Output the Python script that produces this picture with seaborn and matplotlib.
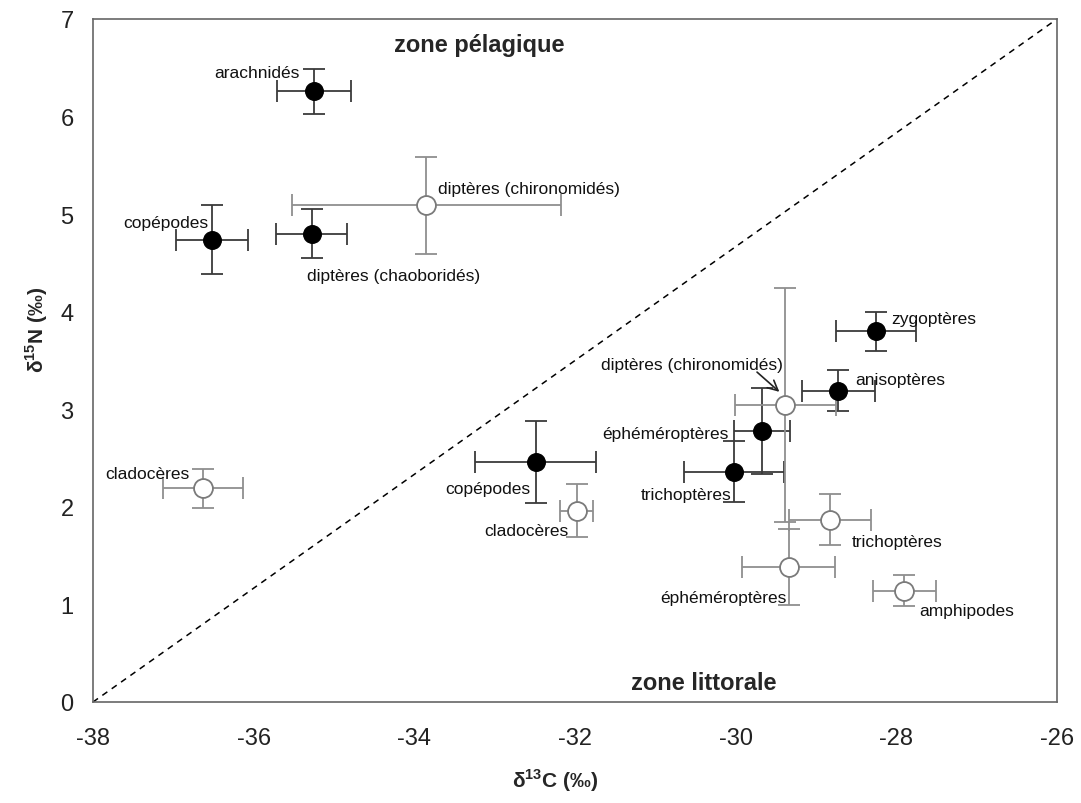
import matplotlib
matplotlib.use("Agg")
import matplotlib.pyplot as plt
import seaborn as sns
import pandas as pd

# ---- data -------------------------------------------------------------
names = ["arachnidés", "copépodes", "diptères (chaoboridés)", "diptères (chironomidés)",
         "cladocères", "copépodes", "cladocères", "diptères (chironomidés)",
         "zygoptères", "anisoptères", "éphéméroptères", "trichoptères",
         "trichoptères", "éphéméroptères", "amphipodes"]
d13c = [-35.25, -36.52, -35.28, -33.85, -36.63, -32.49, -31.98, -29.38,
        -28.25, -28.72, -29.67, -30.02, -28.83, -29.34, -27.90]
d15n = [6.26, 4.74, 4.80, 5.09, 2.19, 2.46, 1.96, 3.04,
        3.80, 3.19, 2.78, 2.36, 1.87, 1.38, 1.14]
d13c_err = [0.46, 0.45, 0.44, 1.67, 0.50, 0.75, 0.21, 0.63,
            0.50, 0.46, 0.35, 0.62, 0.51, 0.58, 0.39]
d15n_err = [0.23, 0.35, 0.25, 0.50, 0.20, 0.42, 0.27, 1.20,
            0.20, 0.21, 0.44, 0.31, 0.26, 0.39, 0.16]
filled = [True, True, True, False, False, True, False, False,
          True, True, True, True, False, False, False]

# label anchor positions (data coords) and alignment
label_x = [-35.43, -36.57, -35.34, -33.71, -36.80, -32.55, -32.08, -29.41,
           -28.06, -28.51, -30.09, -30.05, -28.56, -29.36, -27.71]
label_y = [6.45, 4.91, 4.37, 5.26, 2.34, 2.19, 1.76, 3.46,
           3.93, 3.31, 2.75, 2.13, 1.64, 1.07, 0.94]
label_ha = ["right", "right", "left", "left", "right", "right", "right", "right",
            "left", "left", "right", "right", "left", "right", "left"]

diag_x = [-38, -26]
diag_y = [0, 7]
x_ticks = [-38, -36, -34, -32, -30, -28, -26]
y_ticks = [0, 1, 2, 3, 4, 5, 6, 7]

df = pd.DataFrame({"name": names, "x": d13c, "y": d15n,
                   "xerr": d13c_err, "yerr": d15n_err, "filled": filled})

# ---- style ------------------------------------------------------------
sns.set_style("white")
plt.rcParams["font.family"] = ["Liberation Sans", "DejaVu Sans"]
plt.rcParams["mathtext.fontset"] = "custom"
plt.rcParams["mathtext.rm"] = "Liberation Sans"
plt.rcParams["mathtext.bf"] = "Liberation Sans:bold"

fig = plt.figure(figsize=(10.81, 8.04), dpi=100)
ax = fig.add_axes([93 / 1081, 1 - 703 / 804, 964 / 1081, 683 / 804])

# diagonal
ax.plot(diag_x, diag_y, ls=(0, (4, 3.5)), color="black", lw=1.1, zorder=1)

# error bars
for is_filled, col in [(True, "#3a3a3a"), (False, "#8f8f8f")]:
    sub = df[df["filled"] == is_filled]
    ax.errorbar(sub["x"], sub["y"], xerr=sub["xerr"], yerr=sub["yerr"],
                fmt="none", ecolor=col, elinewidth=1.3, capsize=8,
                capthick=1.3, zorder=2)

# markers
sns.scatterplot(data=df[df["filled"]], x="x", y="y", ax=ax, s=160,
                color="black", edgecolor="black", linewidth=1, zorder=3,
                legend=False)
sns.scatterplot(data=df[~df["filled"]], x="x", y="y", ax=ax, s=185,
                color="white", edgecolor="#7a7a7a", linewidth=1.3, zorder=3,
                legend=False)

# labels
for n, lx, ly, ha in zip(names, label_x, label_y, label_ha):
    ax.text(lx, ly, n, ha=ha, va="center", fontsize=12.5, color="#111111",
            zorder=4)

# arrow to littoral chironomids
ax.annotate("", xy=(d13c[7] - 0.05, d15n[7] + 0.12),
            xytext=(d13c[7] - 0.38, d15n[7] + 0.36),
            arrowprops=dict(arrowstyle="->", color="#222222", lw=1.2,
                            mutation_scale=18), zorder=4)

ax.text(-33.19, 6.74, "zone pélagique", ha="center", va="center",
        fontsize=17, fontweight="bold")
ax.text(-30.40, 0.20, "zone littorale", ha="center", va="center",
        fontsize=17, fontweight="bold")

ax.set_xlim(-38, -26)
ax.set_ylim(0, 7)
ax.set_xticks(x_ticks)
ax.set_yticks(y_ticks)
ax.set_xticklabels([str(t) for t in x_ticks])
ax.set_yticklabels([str(t) for t in y_ticks])
ax.tick_params(axis="both", direction="out", length=6, width=1,
               color="#555555", labelsize=17, labelcolor="#222222")
ax.tick_params(axis="x", pad=12)
ax.tick_params(axis="y", pad=8)

for sp in ax.spines.values():
    sp.set_color("#666666")
    sp.set_linewidth(1.2)

ax.set_xlabel(r"δ$^{\mathbf{13}}$C (‰)", fontsize=15, fontweight="bold")
ax.set_ylabel(r"δ$^{\mathbf{15}}$N (‰)", fontsize=15, fontweight="bold")
ax.xaxis.set_label_coords(0.479, -0.095)
ax.yaxis.set_label_coords(-0.045, 0.546)

fig.savefig("out.png", dpi=100, facecolor="white")
